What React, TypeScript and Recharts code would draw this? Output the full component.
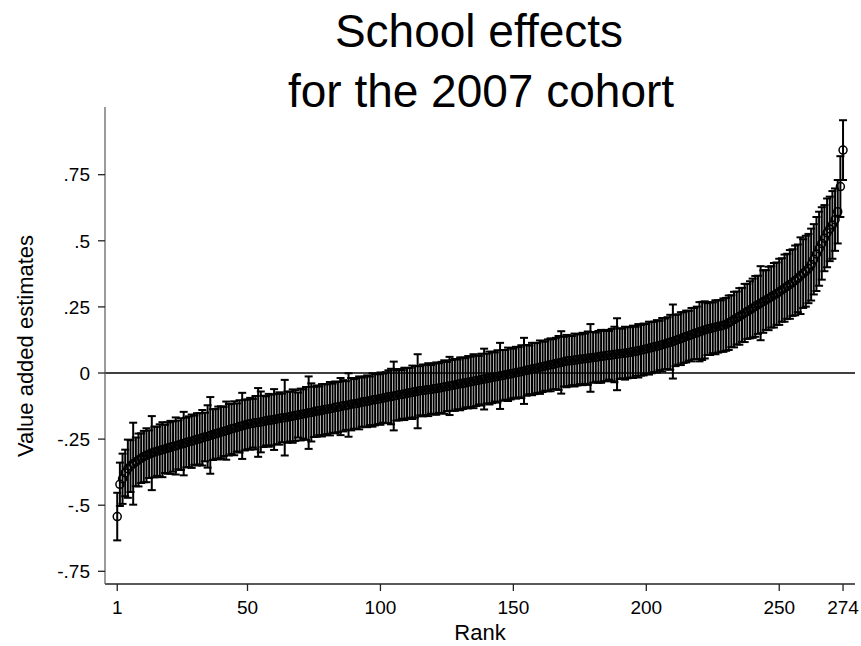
import React from 'react';
import { ScatterChart, Scatter, XAxis, YAxis, ErrorBar, ReferenceLine } from 'recharts';

// Value-added estimate for each school, ordered by rank 1..274
const estimates: number[] = [
  -0.543, -0.421, -0.400, -0.378, -0.362, -0.352, -0.343, -0.336, -0.329, -0.322,
  -0.316, -0.311, -0.307, -0.303, -0.299, -0.296, -0.293, -0.290, -0.287, -0.284,
  -0.281, -0.278, -0.276, -0.272, -0.269, -0.267, -0.263, -0.260, -0.258, -0.254,
  -0.251, -0.249, -0.245, -0.242, -0.240, -0.236, -0.233, -0.230, -0.227, -0.224,
  -0.221, -0.218, -0.215, -0.211, -0.209, -0.206, -0.202, -0.200, -0.197, -0.194,
  -0.192, -0.190, -0.188, -0.187, -0.185, -0.183, -0.181, -0.179, -0.178, -0.176,
  -0.174, -0.172, -0.170, -0.169, -0.167, -0.165, -0.163, -0.161, -0.159, -0.157,
  -0.155, -0.153, -0.150, -0.149, -0.147, -0.144, -0.143, -0.141, -0.138, -0.137,
  -0.135, -0.133, -0.130, -0.129, -0.127, -0.124, -0.123, -0.121, -0.118, -0.117,
  -0.115, -0.113, -0.110, -0.109, -0.107, -0.105, -0.102, -0.101, -0.099, -0.097,
  -0.095, -0.093, -0.090, -0.089, -0.087, -0.085, -0.082, -0.081, -0.079, -0.077,
  -0.075, -0.073, -0.071, -0.069, -0.067, -0.066, -0.064, -0.063, -0.062, -0.060,
  -0.059, -0.057, -0.055, -0.053, -0.051, -0.049, -0.047, -0.045, -0.043, -0.041,
  -0.039, -0.037, -0.035, -0.033, -0.031, -0.029, -0.027, -0.025, -0.023, -0.021,
  -0.019, -0.017, -0.015, -0.013, -0.011, -0.009, -0.007, -0.005, -0.003, -0.001,
  0.001, 0.003, 0.005, 0.008, 0.010, 0.012, 0.015, 0.017, 0.019, 0.022,
  0.024, 0.026, 0.029, 0.031, 0.033, 0.036, 0.038, 0.040, 0.043, 0.045,
  0.046, 0.047, 0.049, 0.050, 0.052, 0.053, 0.054, 0.056, 0.057, 0.059,
  0.060, 0.061, 0.063, 0.064, 0.066, 0.067, 0.068, 0.070, 0.071, 0.073,
  0.074, 0.075, 0.077, 0.078, 0.080, 0.082, 0.084, 0.086, 0.089, 0.091,
  0.094, 0.096, 0.099, 0.101, 0.104, 0.107, 0.110, 0.113, 0.116, 0.119,
  0.123, 0.127, 0.130, 0.134, 0.138, 0.141, 0.145, 0.149, 0.152, 0.156,
  0.159, 0.163, 0.166, 0.168, 0.171, 0.173, 0.176, 0.178, 0.181, 0.184,
  0.190, 0.196, 0.202, 0.208, 0.214, 0.220, 0.227, 0.233, 0.239, 0.245,
  0.252, 0.258, 0.264, 0.270, 0.276, 0.282, 0.288, 0.294, 0.300, 0.307,
  0.314, 0.321, 0.328, 0.335, 0.342, 0.350, 0.358, 0.368, 0.376, 0.385,
  0.395, 0.410, 0.430, 0.450, 0.470, 0.490, 0.510, 0.530, 0.545, 0.560,
  0.580, 0.610, 0.705, 0.843,
];

// Half-width of each school's confidence interval
const halfWidths: number[] = [
  0.090, 0.082, 0.095, 0.088, 0.110, 0.098, 0.155, 0.092, 0.100, 0.094,
  0.097, 0.102, 0.090, 0.140, 0.096, 0.093, 0.099, 0.104, 0.091, 0.097,
  0.100, 0.095, 0.108, 0.092, 0.098, 0.120, 0.094, 0.096, 0.101, 0.093,
  0.099, 0.097, 0.105, 0.092, 0.118, 0.145, 0.096, 0.094, 0.100, 0.098,
  0.093, 0.110, 0.097, 0.095, 0.102, 0.091, 0.099, 0.125, 0.096, 0.094,
  0.098, 0.092, 0.101, 0.130, 0.115, 0.097, 0.093, 0.100, 0.096, 0.115,
  0.095, 0.099, 0.092, 0.143, 0.097, 0.094, 0.101, 0.096, 0.085, 0.098,
  0.093, 0.100, 0.137, 0.110, 0.095, 0.097, 0.092, 0.099, 0.096, 0.094,
  0.101, 0.093, 0.098, 0.095, 0.108, 0.097, 0.092, 0.120, 0.099, 0.094,
  0.096, 0.100, 0.093, 0.095, 0.098, 0.092, 0.101, 0.097, 0.094, 0.099,
  0.093, 0.096, 0.100, 0.105, 0.130, 0.095, 0.097, 0.092, 0.099, 0.096,
  0.094, 0.101, 0.097, 0.140, 0.093, 0.098, 0.095, 0.100, 0.092, 0.096,
  0.099, 0.094, 0.097, 0.101, 0.093, 0.110, 0.096, 0.098, 0.094, 0.100,
  0.097, 0.093, 0.099, 0.095, 0.102, 0.096, 0.092, 0.098, 0.115, 0.094,
  0.100, 0.097, 0.093, 0.099, 0.125, 0.096, 0.094, 0.101, 0.097, 0.093,
  0.098, 0.095, 0.100, 0.125, 0.096, 0.092, 0.099, 0.097, 0.094, 0.101,
  0.096, 0.093, 0.098, 0.100, 0.095, 0.097, 0.102, 0.118, 0.094, 0.099,
  0.096, 0.093, 0.100, 0.097, 0.094, 0.099, 0.095, 0.101, 0.128, 0.096,
  0.093, 0.098, 0.100, 0.095, 0.097, 0.092, 0.099, 0.105, 0.136, 0.096,
  0.094, 0.100, 0.097, 0.095, 0.099, 0.093, 0.101, 0.096, 0.098, 0.094,
  0.100, 0.097, 0.095, 0.099, 0.093, 0.101, 0.096, 0.098, 0.104, 0.140,
  0.097, 0.095, 0.100, 0.096, 0.098, 0.094, 0.101, 0.097, 0.099, 0.112,
  0.110, 0.108, 0.098, 0.100, 0.096, 0.102, 0.099, 0.097, 0.101, 0.100,
  0.103, 0.098, 0.105, 0.100, 0.107, 0.102, 0.110, 0.104, 0.108, 0.112,
  0.115, 0.110, 0.140, 0.118, 0.113, 0.120, 0.116, 0.122, 0.118, 0.125,
  0.120, 0.127, 0.123, 0.130, 0.126, 0.132, 0.128, 0.145, 0.130, 0.134,
  0.131, 0.136, 0.133, 0.140, 0.140, 0.137, 0.125, 0.130, 0.122, 0.128,
  0.118, 0.120, 0.115, 0.113,
];

const xTicks = [1, 50, 100, 150, 200, 250, 274];
const yTicks = [-0.75, -0.5, -0.25, 0, 0.25, 0.5, 0.75];
const titleLines = ['School effects', 'for the 2007 cohort'];
const xTitle = 'Rank';
const yTitle = 'Value added estimates';

const data = estimates.map((v, i) => ({ rank: i + 1, estimate: v, ci: halfWidths[i] }));

const FONT = '"Liberation Sans", Arial, Helvetica, sans-serif';

const fmtY = (v: number) => (v === 0 ? '0' : String(v).replace('0.', '.'));

const HollowCircle = (props: any) => {
  const { cx, cy } = props;
  if (cx == null || cy == null) return null;
  return <circle cx={cx} cy={cy} r={4} fill="none" stroke="#000" strokeWidth={1.5} />;
};

export default function App() {
  return (
    <div style={{ position: 'absolute', left: 0, top: 0, width: 861, height: 646, background: '#fff' }}>
      <ScatterChart width={861} height={646} margin={{ top: 107, right: 6, bottom: 0, left: 0 }}>
        <XAxis
          type="number"
          dataKey="rank"
          domain={[-3.6, 278.5]}
          ticks={xTicks}
          interval={0}
          allowDataOverflow
          height={62}
          tickSize={7}
          tickMargin={10}
          axisLine={{ stroke: '#222', strokeWidth: 1.3 }}
          tickLine={{ stroke: '#222', strokeWidth: 1.3 }}
          tick={{ fill: '#000', fontSize: 19, fontFamily: FONT }}
        />
        <YAxis
          type="number"
          dataKey="estimate"
          domain={[-0.798, 1.006]}
          ticks={yTicks}
          interval={0}
          allowDataOverflow
          width={105}
          tickSize={7}
          tickMargin={8}
          tickFormatter={fmtY}
          axisLine={{ stroke: '#666', strokeWidth: 1.3 }}
          tickLine={{ stroke: '#222', strokeWidth: 1.3 }}
          tick={{ fill: '#000', fontSize: 19, fontFamily: FONT }}
        />
        <ReferenceLine y={0} stroke="#000" strokeWidth={1.6} />
        <Scatter data={data} dataKey="estimate" shape={HollowCircle} isAnimationActive={false}>
          <ErrorBar dataKey="ci" direction="y" width={4} stroke="#000" strokeWidth={2} isAnimationActive={false} />
        </Scatter>
      </ScatterChart>
      <svg
        width={861}
        height={646}
        style={{ position: 'absolute', left: 0, top: 0, pointerEvents: 'none' }}
        fontFamily={FONT}
      >
        <text x={479} y={47} textAnchor="middle" fontSize={46} fill="#000">{titleLines[0]}</text>
        <text x={481} y={107} textAnchor="middle" fontSize={46} fill="#000">{titleLines[1]}</text>
        <text x={480} y={640} textAnchor="middle" fontSize={22} fill="#000">{xTitle}</text>
        <text x={33} y={346} textAnchor="middle" fontSize={22} fill="#000" transform="rotate(-90 33 346)">{yTitle}</text>
      </svg>
    </div>
  );
}
